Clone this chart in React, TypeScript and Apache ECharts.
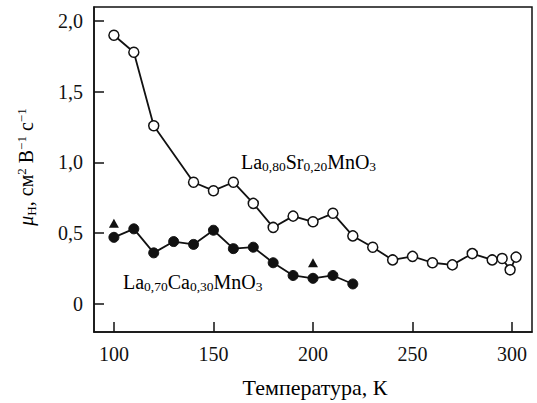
import React, { useEffect, useRef } from "react";
import * as echarts from "echarts";

// Hall mobility vs temperature for two manganite films
const srTemps = [100, 110, 120, 140, 150, 160, 170, 180, 190, 200, 210, 220, 230, 240, 250, 260, 270, 280, 290, 295, 299, 302];
const srMobility = [1.9, 1.78, 1.26, 0.86, 0.8, 0.86, 0.71, 0.54, 0.62, 0.58, 0.64, 0.48, 0.4, 0.31, 0.335, 0.29, 0.275, 0.355, 0.31, 0.32, 0.24, 0.33];

const caTemps = [100, 110, 120, 130, 140, 150, 160, 170, 180, 190, 200, 210, 220];
const caMobility = [0.47, 0.53, 0.36, 0.44, 0.42, 0.52, 0.39, 0.4, 0.29, 0.2, 0.18, 0.2, 0.14];

const triTemps = [100, 200];
const triMobility = [0.57, 0.29];

const xTicks = [100, 150, 200, 250, 300];
const yTicks = [0, 0.5, 1.0, 1.5, 2.0];

const SERIF = "Times New Roman, Liberation Serif, serif";
const INK = "#111";

const formulaRich = {
  m: { fontFamily: SERIF, fontSize: 20, color: INK, lineHeight: 23 },
  s: { fontFamily: SERIF, fontSize: 13.5, color: INK, lineHeight: 13, verticalAlign: "bottom" as const },
};

const tickRich = {
  t: { fontFamily: SERIF, fontSize: 20, color: INK },
};

const titleRich = {
  t: { fontFamily: SERIF, fontSize: 22, color: INK },
};

export default function App() {
  const ref = useRef<HTMLDivElement>(null);

  useEffect(() => {
    if (!ref.current) return;
    const chart = echarts.init(ref.current, undefined, { renderer: "svg" });
    const pair = (xs: number[], ys: number[]) => xs.map((x, i) => [x, ys[i]]);

    chart.setOption({
      animation: false,
      backgroundColor: "#fff",
      textStyle: { fontFamily: SERIF },
      grid: {
        left: 94,
        right: 5,
        top: 7,
        bottom: 71,
        show: true,
        borderColor: INK,
        borderWidth: 1.5,
        backgroundColor: "transparent",
      },
      xAxis: {
        type: "value",
        min: 90,
        max: 310,
        axisLine: { show: true, onZero: false, lineStyle: { color: INK, width: 1.5 } },
        axisTick: {
          show: true,
          inside: true,
          length: 10,
          lineStyle: { color: INK, width: 1.5 },
          customValues: xTicks,
        },
        axisLabel: {
          fontFamily: SERIF,
          fontSize: 20,
          color: INK,
          margin: 12,
          customValues: xTicks,
          rich: tickRich,
          formatter: (v: number) => `{t|${v}}`,
        },
        splitLine: { show: false },
      },
      yAxis: {
        type: "value",
        min: -0.2,
        max: 2.1,
        axisLine: { show: true, onZero: false, lineStyle: { color: INK, width: 1.5 } },
        axisTick: {
          show: true,
          inside: true,
          length: 10,
          lineStyle: { color: INK, width: 1.5 },
          customValues: yTicks,
        },
        axisLabel: {
          fontFamily: SERIF,
          fontSize: 20,
          color: INK,
          margin: 11,
          customValues: yTicks,
          rich: tickRich,
          formatter: (v: number) => `{t|${v === 0 ? "0" : v.toFixed(1).replace(".", ",")}}`,
        },
        splitLine: { show: false },
      },
      graphic: [
        {
          type: "text",
          x: 241,
          y: 162,
          style: {
            text: "{m|La}{s|0,80}{m|Sr}{s|0,20}{m|MnO}{s|3}",
            rich: formulaRich,
            verticalAlign: "middle",
          },
        },
        {
          type: "text",
          x: 123,
          y: 282,
          style: {
            text: "{m|La}{s|0,70}{m|Ca}{s|0,30}{m|MnO}{s|3}",
            rich: formulaRich,
            verticalAlign: "middle",
          },
        },
        {
          type: "text",
          x: 26,
          y: 167,
          rotation: Math.PI / 2,
          style: {
            text: "{mu|μ}{s|H}{m|, см}{p|2}{m| В}{p|−1}{m| с}{p|−1}",
            align: "center",
            verticalAlign: "middle",
            rich: {
              mu: { fontFamily: SERIF, fontSize: 20, fontStyle: "italic", color: INK, lineHeight: 23 },
              m: { fontFamily: SERIF, fontSize: 20, color: INK, lineHeight: 23 },
              s: { fontFamily: SERIF, fontSize: 13, color: INK, lineHeight: 13, verticalAlign: "bottom" },
              p: { fontFamily: SERIF, fontSize: 13, color: INK, lineHeight: 13, verticalAlign: "top" },
            },
          },
        },
        {
          type: "text",
          x: 315,
          y: 387,
          style: {
            text: "{t|Температура, К}",
            rich: titleRich,
            align: "center",
            verticalAlign: "middle",
          },
        },
      ],
      series: [
        {
          type: "line",
          data: pair(srTemps, srMobility),
          symbol: "circle",
          symbolSize: 10,
          lineStyle: { color: INK, width: 1.8 },
          itemStyle: { color: "#fff", borderColor: INK, borderWidth: 1.5 },
          z: 3,
        },
        {
          type: "line",
          data: pair(caTemps, caMobility),
          symbol: "circle",
          symbolSize: 10,
          lineStyle: { color: INK, width: 1.8 },
          itemStyle: { color: INK, borderColor: INK, borderWidth: 1 },
          z: 3,
        },
        {
          type: "scatter",
          data: pair(triTemps, triMobility),
          symbol: "triangle",
          symbolSize: [10, 9],
          itemStyle: { color: INK, opacity: 1 },
          z: 3,
        },
      ],
    });

    return () => chart.dispose();
  }, []);

  return (
    <div
      ref={ref}
      style={{ position: "fixed", left: 0, top: 0, width: 537, height: 403, background: "#fff" }}
    />
  );
}
